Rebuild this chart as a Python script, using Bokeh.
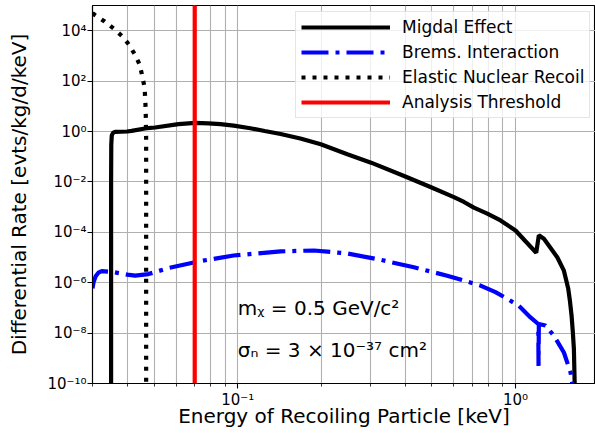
from bokeh.plotting import figure
from bokeh.models import FixedTicker, CustomJSTickFormatter, Range1d
from bokeh.embed import file_html
from bokeh.resources import INLINE
from bokeh.core.properties import value

FONT = "DejaVu Sans"

# ---------------- data ----------------
# Migdal Effect
migdal_E = [0.0350, 0.0350, 0.03505, 0.0352, 0.0356, 0.0362, 0.0400, 0.0415, 0.0463, 0.0504,
            0.0612, 0.0703, 0.0784, 0.0866, 0.0967, 0.111, 0.125, 0.1426, 0.168, 0.199,
            0.248, 0.302, 0.397, 0.494, 0.600, 0.652, 0.708, 0.791, 0.883, 1.000,
            1.086, 1.187, 1.213, 1.265, 1.337, 1.413, 1.493, 1.548, 1.569, 1.591,
            1.608, 1.622, 1.632, 1.633]
migdal_R = [1e-12, 1e-2, 0.3, 0.7, 0.9, 0.97, 1.0, 1.06, 1.32, 1.44,
            1.95, 2.2, 2.1, 1.95, 1.7, 1.35, 1.05, 0.8, 0.53, 0.31,
            0.125, 0.058, 0.0171, 6.3e-3, 2.5e-3, 1.6e-3, 9.5e-4, 5.5e-4, 2.95e-4, 1.18e-4,
            4.4e-5, 1.55e-5, 7.6e-5, 5.5e-5, 2.4e-5, 1.02e-5, 3.0e-6, 5.7e-7, 1.95e-7, 4.9e-8,
            1.07e-8, 2.3e-9, 1.1e-10, 1e-12]

# Brems. Interaction
brems_E = [0.0300, 0.0303, 0.0308, 0.0315, 0.0324, 0.0352, 0.0400, 0.0427, 0.0477, 0.0563,
           0.0722, 0.0967, 0.1426, 0.188, 0.248, 0.3266, 0.4305, 0.5675, 0.748, 0.847,
           0.933, 1.028, 1.132, 1.207, 1.210, 1.213, 1.282, 1.374, 1.493, 1.578,
           1.600, 1.610]
brems_R = [6.0e-7, 1.1e-6, 1.8e-6, 2.5e-6, 2.9e-6, 2.7e-6, 2.1e-6, 1.9e-6, 2.2e-6, 3.8e-6,
           7.0e-6, 1.2e-5, 1.75e-5, 1.9e-5, 1.45e-5, 8.1e-6, 4.1e-6, 1.9e-6, 7.7e-7, 4.2e-7,
           2.3e-7, 1.2e-7, 4.2e-8, 2.3e-8, 5e-10, 2.3e-8, 2.0e-8, 7.9e-9, 1.7e-9, 2.7e-10,
           1e-10, 1e-12]

# Elastic Nuclear Recoil
elastic_E = [0.0300, 0.0306, 0.0332, 0.0358, 0.0384, 0.0405, 0.0426, 0.0444, 0.0453, 0.0462,
             0.0465, 0.0467, 0.0468, 0.0468]
elastic_R = [5.0e4, 4.2e4, 2.3e4, 1.2e4, 6.0e3, 2.9e3, 1.15e3, 4.4e2, 1.6e2, 56,
             15, 3, 0.5, 1e-12]

# Analysis threshold
threshold_E = 0.07
threshold_span = [1e-12, 1e6]

series_labels = ["Migdal Effect", "Brems. Interaction", "Elastic Nuclear Recoil", "Analysis Threshold"]

x_ticks = [0.1, 1.0]
x_tick_labels = ["10\u207b\u00b9", "10\u2070"]
x_minor = [0.03, 0.04, 0.05, 0.06, 0.07, 0.08, 0.09, 0.2, 0.3, 0.4, 0.5, 0.6, 0.7, 0.8, 0.9]
y_ticks = [1e-10, 1e-8, 1e-6, 1e-4, 1e-2, 1e0, 1e2, 1e4]
y_tick_labels = ["10\u207b\u00b9\u2070", "10\u207b\u2078", "10\u207b\u2076", "10\u207b\u2074",
                 "10\u207b\u00b2", "10\u2070", "10\u00b2", "10\u2074"]

x_lim = (0.030, 1.94)
y_lim = (1e-10, 1e5)

annotation_x = 0.1
annotation_y = [1.0e-7, 2.2e-9]
annotation_text = ["m\u1d6a = 0.5 GeV/c\u00b2", "\u03c3\u2099 = 3 \u00d7 10\u207b\u00b3\u2077 cm\u00b2"]

x_label = "Energy of Recoiling Particle [keV]"
y_label = "Differential Rate [evts/kg/d/keV]"

# ---------------- figure ----------------
p = figure(width=595, height=433, x_axis_type="log", y_axis_type="log",
           x_range=Range1d(*x_lim), y_range=Range1d(*y_lim),
           output_backend="svg", toolbar_location=None,
           min_border_left=92, min_border_right=0, min_border_top=5, min_border_bottom=50)

p.background_fill_color = "white"
p.border_fill_color = "white"
p.outline_line_color = "black"
p.outline_line_width = 1.1

fmt_code = """
let best = 0, bd = Infinity;
for (let i = 0; i < tv.length; i++) {
  const d = Math.abs(Math.log10(tick) - Math.log10(tv[i]));
  if (d < bd) { bd = d; best = i; }
}
return tl[best];
"""
p.xaxis.ticker = FixedTicker(ticks=x_ticks, minor_ticks=x_minor)
p.yaxis.ticker = FixedTicker(ticks=y_ticks, minor_ticks=[])
p.xaxis.formatter = CustomJSTickFormatter(args=dict(tv=x_ticks, tl=x_tick_labels), code=fmt_code)
p.yaxis.formatter = CustomJSTickFormatter(args=dict(tv=y_ticks, tl=y_tick_labels), code=fmt_code)

for ax in (p.xaxis[0], p.yaxis[0]):
    ax.axis_line_color = "black"
    ax.axis_line_width = 1.1
    ax.major_tick_line_color = "black"
    ax.major_tick_line_width = 1.1
    ax.minor_tick_line_color = "black"
    ax.minor_tick_line_width = 0.8
    ax.major_tick_in = 0
    ax.major_tick_out = 5
    ax.minor_tick_in = 0
    ax.minor_tick_out = 3
    ax.major_label_text_font = FONT
    ax.major_label_text_font_size = "15px"
    ax.major_label_text_color = "black"
    ax.axis_label_text_font = FONT
    ax.axis_label_text_font_size = "20px"
    ax.axis_label_text_font_style = "normal"
    ax.axis_label_text_color = "black"

p.xaxis[0].major_label_standoff = 2
p.xaxis[0].axis_label = x_label
p.xaxis[0].axis_label_standoff = -8
p.yaxis[0].major_label_standoff = 1
p.yaxis[0].axis_label = y_label
p.yaxis[0].axis_label_standoff = 13

p.xgrid.grid_line_color = "#b0b0b0"
p.xgrid.grid_line_width = 1.1
p.xgrid.minor_grid_line_color = "#b0b0b0"
p.xgrid.minor_grid_line_width = 1.1
p.ygrid.grid_line_color = "#b0b0b0"
p.ygrid.grid_line_width = 1.1
p.ygrid.minor_grid_line_color = None

LW = 4.2
p.line(migdal_E, migdal_R, line_color="black", line_width=LW, legend_label=series_labels[0])
p.line(brems_E, brems_R, line_color="blue", line_width=LW, line_dash="27 7 4 7",
       legend_label=series_labels[1])
p.line(elastic_E, elastic_R, line_color="black", line_width=LW, line_dash="4 7",
       legend_label=series_labels[2])
p.line([threshold_E, threshold_E], threshold_span, line_color="red", line_width=LW,
       legend_label=series_labels[3])

for yy, tt in zip(annotation_y, annotation_text):
    p.text(x=[annotation_x], y=[yy], text=[tt], text_font=value(FONT), text_font_size="20px",
           text_color="black", text_baseline="alphabetic", text_align="left")

lg = p.legend[0]
lg.location = (203, 265)
lg.margin = 0
lg.padding = 5
lg.spacing = 5
lg.glyph_width = 89
lg.glyph_height = 20
lg.label_height = 20
lg.label_standoff = 12
lg.label_text_font = FONT
lg.label_text_font_size = "17px"
lg.label_text_color = "black"
lg.border_line_color = "#cccccc"
lg.border_line_width = 1
lg.background_fill_color = "white"
lg.background_fill_alpha = 0.8

open("out.html", "w").write(file_html(p, INLINE))
